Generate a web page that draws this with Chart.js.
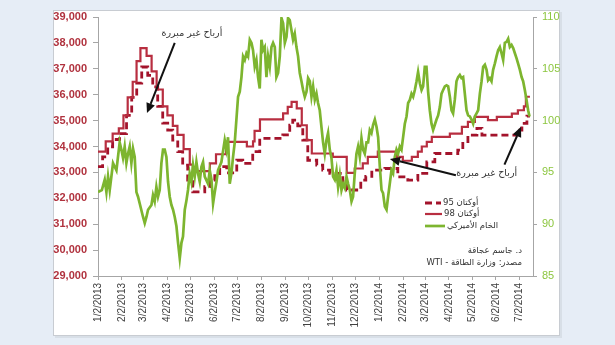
<!DOCTYPE html>
<html><head><meta charset="utf-8">
<script src="https://cdn.jsdelivr.net/npm/chart.js@4.4.1/dist/chart.umd.min.js"></script>
<style>
html,body{margin:0;padding:0;background:#e6edf6;overflow:hidden;}
canvas{display:block;}
</style></head><body>
<canvas id="c" width="615" height="345"></canvas>
<script>
// ---- tick labels (x axis: days since 1/2/2013) ----
const tickLabels = ['1/2/2013','2/2/2013','3/2/2013','4/2/2013','5/2/2013','6/2/2013','7/2/2013','8/2/2013','9/2/2013','10/2/2013','11/2/2013','12/2/2013','1/2/2014','2/2/2014','3/2/2014','4/2/2014','5/2/2014','6/2/2014','7/2/2014'];
const tickDays = [0,31,59,90,120,151,181,212,243,273,304,334,365,396,424,455,485,516,546];

// ---- Octane 95 (step changes: day, price) ----
const oct95Days = [0,6,12.6,19,28,37,43.7,50.2,56.7,64.5,71,77.4,83.9,90.4,96.9,103.4,109.8,116.3,122.8,138.4,144.9,151.4,157.8,166.9,179.9,187.7,200.6,209.7,239.6,248.6,252.5,259,265.5,272,283.6,291.4,300.5,317.4,322.6,340.7,347.2,355,371.9,388.7,401.7,414.7,426.3,436.7,466.5,473,479.6,491.3,497.8,543.1,549.6,556.1,560];
const oct95Values = [33220,33600,33990,34270,34500,35200,35900,36450,37070,36750,36300,35550,34900,34630,34250,33800,33280,32640,32250,32450,32700,32950,33220,32980,33470,33350,33800,34310,34450,34820,35020,34800,34250,33470,33280,33090,32960,32640,32320,32700,32850,33090,33150,32830,32700,32960,33410,33730,33860,34120,34440,34700,34440,34630,34890,35170,35170];

// ---- Octane 98 (step changes: day, price) ----
const oct98Days = [0,10,19,27,33,38.5,45,50,55,63,69.5,76,84,90,97,103,111,119,123,145,153,166,193,201,203,210,240,246,251,257.7,264.2,270.7,277.2,304.4,322.5,332.9,343.3,349.8,362.8,387.4,395.2,406.9,414.7,419.8,426.3,432.8,456.2,471.8,479.6,488.7,505.6,517.1,536.6,544.4,552.2,554.8,560];
const oct98Values = [33800,34200,34500,34700,35200,35900,36500,37300,37800,37500,36900,36200,35550,35200,34800,34450,33900,33300,33050,33350,33700,34180,34000,34200,34600,35050,35280,35530,35720,35470,34820,34250,33730,33600,32980,33150,33350,33600,33800,33600,33450,33600,33800,34000,34180,34370,34500,34760,34950,35140,35020,35140,35270,35400,35550,35920,35920];

// ---- WTI crude (day, USD) ----
const wtiDays = [0,5,8.7,10.9,13,15.2,19.5,21.7,23.9,28.1,30.3,32.4,34.6,36.8,38.9,41.1,43.3,45.4,47.6,49.8,51.9,54.1,58.4,60.6,62.8,64.9,69.3,71.3,73.5,75.7,77.8,80,82.2,84.3,86.5,88.7,90.8,93,95.2,97.3,99.5,101.7,103.8,106,108.2,110.2,112.5,114.7,116.7,118.9,121.1,123.2,125.4,127.6,129.7,131.9,134.1,136.2,138.4,142.7,144.9,147.1,149.2,151.4,153.6,155.6,160,164.3,166.5,168.6,170.8,173,175.1,177.3,181.6,183.8,186,188.1,190.3,192.5,194.6,196.8,199,201,203.2,205.4,207.5,209.7,211.9,214,216.2,218.4,220.5,222.7,224.9,227,229.2,231.3,233.5,235.7,237.9,240,242.2,244.4,246.4,248.6,250.8,252.9,255.1,257.3,259.4,261.6,263.8,265.9,268.1,270.3,272.4,274.6,276.8,278.9,281.1,283.3,285.3,287.5,289.7,291.8,294,296.2,298.3,300.5,302.7,304.8,307,309.2,311.3,313.5,315.7,317.8,320,322.2,324.3,326.5,328.7,330.7,332.9,335.1,337.2,339.4,341.6,343.7,345.9,348.1,350.2,352.4,354.6,356.7,358.9,361.1,363.2,365.4,367.6,369.6,371.9,374.1,376.1,378.3,380.5,382.6,384.8,387,389.1,391.3,393.5,395.6,397.8,400,402.1,404.3,406.5,408.6,410.8,413,415,417.3,419.5,421.5,423.7,425.9,428,430.2,432.4,434.5,436.7,438.9,441,443.2,445.4,447.5,449.7,451.9,454,456.2,458.4,460.4,462.6,464.8,466.9,469.1,471.3,473.4,475.6,477.8,479.9,482.1,484.3,486.4,488.6,490.8,492.9,495.1,497.3,499.4,501.6,503.8,505.8,508,510.2,512.3,514.5,516.7,518.8,521,523.2,525.3,527.5,529.7,531.8,534,536.2,538.3,540.5,542.7,544.7,547,549.2,551.2,553.4,555.6,557.7,559.5];
const wtiValues = [93.1,93.3,94.3,93.1,94.6,93.3,95.9,95.55,95.2,97.9,97.2,96.4,97.5,95.9,96.8,97.5,95.9,97.3,96.5,93.1,92.65,92.0,90.7,90.1,90.7,91.4,91.85,92.8,92.2,93.6,92.65,93.3,95.9,97.2,97.2,96.5,94.1,92.65,91.85,91.4,90.7,89.8,88.2,86.7,88.2,88.8,91.4,92.3,93.3,94.9,94.1,95.7,94.6,96.0,94.9,94.1,95.55,96.0,94.6,93.9,95.2,94.3,92.0,93.1,94.1,95.2,96.0,98.1,97.2,98.4,93.9,94.9,96.5,97.9,102.3,102.8,104.2,106.2,105.85,106.5,106.2,107.8,107.5,106.8,105.2,105.85,104.2,103.1,107.8,106.8,107.1,104.2,106.2,105.2,107.1,107.5,107.1,104.2,104.6,106.2,109.9,109.4,107.5,108.1,109.9,109.7,108.75,107.8,108.4,107.1,106.2,104.6,103.8,102.95,102.3,102.8,104.1,103.8,102.3,103.3,102.0,102.6,101.7,101.0,99.4,97.9,96.8,98.1,98.8,97.2,96.4,94.6,94.3,95.2,93.6,94.75,93.3,93.9,93.5,94.6,93.9,93.3,92.2,92.65,94.9,96.8,97.5,96.5,98.3,97.2,96.8,97.9,97.9,99.1,98.8,99.6,100.1,99.4,98.4,95.55,93.3,93.0,91.7,91.4,92.65,93.9,95.2,94.9,96.5,97.2,96.8,97.5,97.2,98.4,99.7,100.4,101.7,102.0,102.6,102.3,102.95,103.8,104.7,103.6,102.95,103.3,105.2,105.2,102.8,101.0,99.7,99.1,99.6,100.1,100.5,101.3,102.6,102.95,103.3,103.4,103.3,102.3,101.0,100.7,102.0,103.8,104.2,104.4,104.1,104.2,102.6,101.0,100.5,100.4,100.1,99.7,100.4,100.7,101.0,102.6,103.8,105.2,105.4,104.9,103.9,104.1,103.8,104.9,105.5,106.2,106.8,107.1,106.5,105.85,107.5,107.6,107.9,107.1,107.3,107.0,106.5,106.0,105.5,104.9,104.2,103.8,102.95,102.0,101.0,100.4];

// ---- texts ----
const seriesNames = ['أوكتان 95','أوكتان 98','الخام الأميركي'];
const noteText = 'أرباح غير مبررة';
const authorText = 'د. جاسم عجاقة';
const sourceText = 'مصدر: وزارة الطاقة - WTI';

// annotation arrows in data coordinates [day, left-axis value]
const arrows = [
  {from:[99.5,38000], to:[63.5,35290]},
  {from:[464,32890], to:[378.5,33520]},
  {from:[527,33300], to:[548.5,34760]}
];
const notes = [
  {at:[121.8,38370]},
  {at:[504,32960]}
];

const pts = (xs, ys) => xs.map((x,i)=>({x:x, y:ys[i]}));

const C95 = '#a3132b', C98 = '#b82e40', CW = '#7db52f';

const panelPlugin = {
  id:'panel',
  beforeDraw(chart){
    const ctx = chart.ctx;
    ctx.save();
    ctx.fillStyle = '#e6edf6';
    ctx.fillRect(0,0,chart.width,chart.height);
    ctx.fillStyle = 'rgba(0,0,0,0.06)';
    ctx.fillRect(55,12,507,326);
    ctx.fillStyle = '#ffffff';
    ctx.fillRect(53,10,507,326);
    ctx.strokeStyle = '#c8ccd2';
    ctx.lineWidth = 1;
    ctx.strokeRect(53.5,10.5,506,325);
    ctx.restore();
  }
};

function arrow(ctx, x1,y1,x2,y2){
  const a = Math.atan2(y2-y1, x2-x1);
  const L = 10, W = 4.5;
  const bx = x2 - L*Math.cos(a), by = y2 - L*Math.sin(a);
  ctx.beginPath();
  ctx.moveTo(x1,y1); ctx.lineTo(bx,by);
  ctx.stroke();
  ctx.beginPath();
  ctx.moveTo(x2,y2);
  ctx.lineTo(bx + W*Math.sin(a), by - W*Math.cos(a));
  ctx.lineTo(bx - W*Math.sin(a), by + W*Math.cos(a));
  ctx.closePath();
  ctx.fill();
}

const overlayPlugin = {
  id:'overlay',
  afterDatasetsDraw(chart){
    const ctx = chart.ctx, xs = chart.scales.x, ys = chart.scales.y;
    const P = p => [xs.getPixelForValue(p[0]), ys.getPixelForValue(p[1])];
    ctx.save();
    // arrows
    ctx.strokeStyle = '#111'; ctx.fillStyle = '#111'; ctx.lineWidth = 2;
    arrows.forEach(a => { const f = P(a.from), t = P(a.to); arrow(ctx, f[0],f[1],t[0],t[1]); });
    // notes
    ctx.fillStyle = '#333';
    ctx.font = '9.5px "DejaVu Sans"';
    ctx.textAlign = 'center'; ctx.textBaseline = 'middle';
    ctx.direction = 'rtl';
    notes.forEach(n => { const p = P(n.at); ctx.fillText(noteText, p[0], p[1]); });
    // legend
    const ds = chart.data.datasets;
    const lx = 425, lens = [16, 17, 20], rows = [203, 214, 226];
    [0,1,2].forEach(i => {
      const d = ds[i];
      ctx.save();
      ctx.strokeStyle = d.borderColor; ctx.lineWidth = d.borderWidth;
      ctx.setLineDash(d.borderDash || []);
      ctx.beginPath(); ctx.moveTo(lx, rows[i]); ctx.lineTo(lx+lens[i], rows[i]); ctx.stroke();
      ctx.restore();
      ctx.fillStyle = '#333';
      ctx.font = '8.5px "DejaVu Sans"';
      ctx.textAlign = 'left'; ctx.direction = 'rtl'; ctx.textBaseline = 'middle';
      ctx.fillText(d.label, lx + lens[i] + 2, rows[i]);
    });
    // source
    ctx.font = '8.5px "DejaVu Sans"';
    ctx.textAlign = 'right'; ctx.direction = 'rtl'; ctx.textBaseline = 'middle';
    ctx.fillText(authorText, 522, 251);
    ctx.fillText(sourceText, 522, 263);
    ctx.restore();
  }
};

new Chart(document.getElementById('c'), {
  type:'line',
  data:{
    datasets:[
      {label:seriesNames[0], data:pts(oct95Days, oct95Values), yAxisID:'y', borderColor:C95, borderWidth:2.8, borderDash:[7,4], stepped:'before', pointRadius:0, fill:false, order:2},
      {label:seriesNames[1], data:pts(oct98Days, oct98Values), yAxisID:'y', borderColor:C98, borderWidth:2.2, stepped:'before', pointRadius:0, fill:false, order:1},
      {label:seriesNames[2], data:pts(wtiDays, wtiValues), yAxisID:'y1', borderColor:CW, borderWidth:2.7, tension:0, pointRadius:0, fill:false, order:0}
    ]
  },
  options:{
    responsive:false, animation:false, devicePixelRatio:1,
    layout:{padding:{top:17,left:0,right:0,bottom:0}},
    plugins:{legend:{display:false}, tooltip:{enabled:false}},
    scales:{
      x:{type:'linear', min:0, max:564,
        afterBuildTicks: s => { s.ticks = tickDays.map(v=>({value:v})); },
        ticks:{autoSkip:false, minRotation:90, maxRotation:90, padding:3, color:'#404040',
          font:{family:'Liberation Sans', size:10},
          callback: v => tickLabels[tickDays.indexOf(v)]},
        grid:{drawOnChartArea:false, tickLength:4, color:'#a6a6a6'},
        border:{color:'#a6a6a6'},
        afterFit: s => { s.height = 69; }
      },
      y:{position:'left', min:29000, max:39000,
        ticks:{stepSize:1000, padding:6, color:'#b0323e', font:{family:'Liberation Sans', size:11, weight:'bold'},
          callback: v => v.toLocaleString('en-US')},
        grid:{drawOnChartArea:false, tickLength:5, color:'#a6a6a6'},
        border:{color:'#a6a6a6'},
        afterFit: s => { s.width = 98; }
      },
      y1:{position:'right', min:85, max:110,
        ticks:{stepSize:5, padding:5, color:'#8cc63f', font:{family:'Liberation Sans', size:11}},
        grid:{drawOnChartArea:false, tickLength:4, color:'#a6a6a6'},
        border:{color:'#a6a6a6'},
        afterFit: s => { s.width = 82; }
      }
    }
  },
  plugins:[panelPlugin, overlayPlugin]
});
</script>
</body></html>
